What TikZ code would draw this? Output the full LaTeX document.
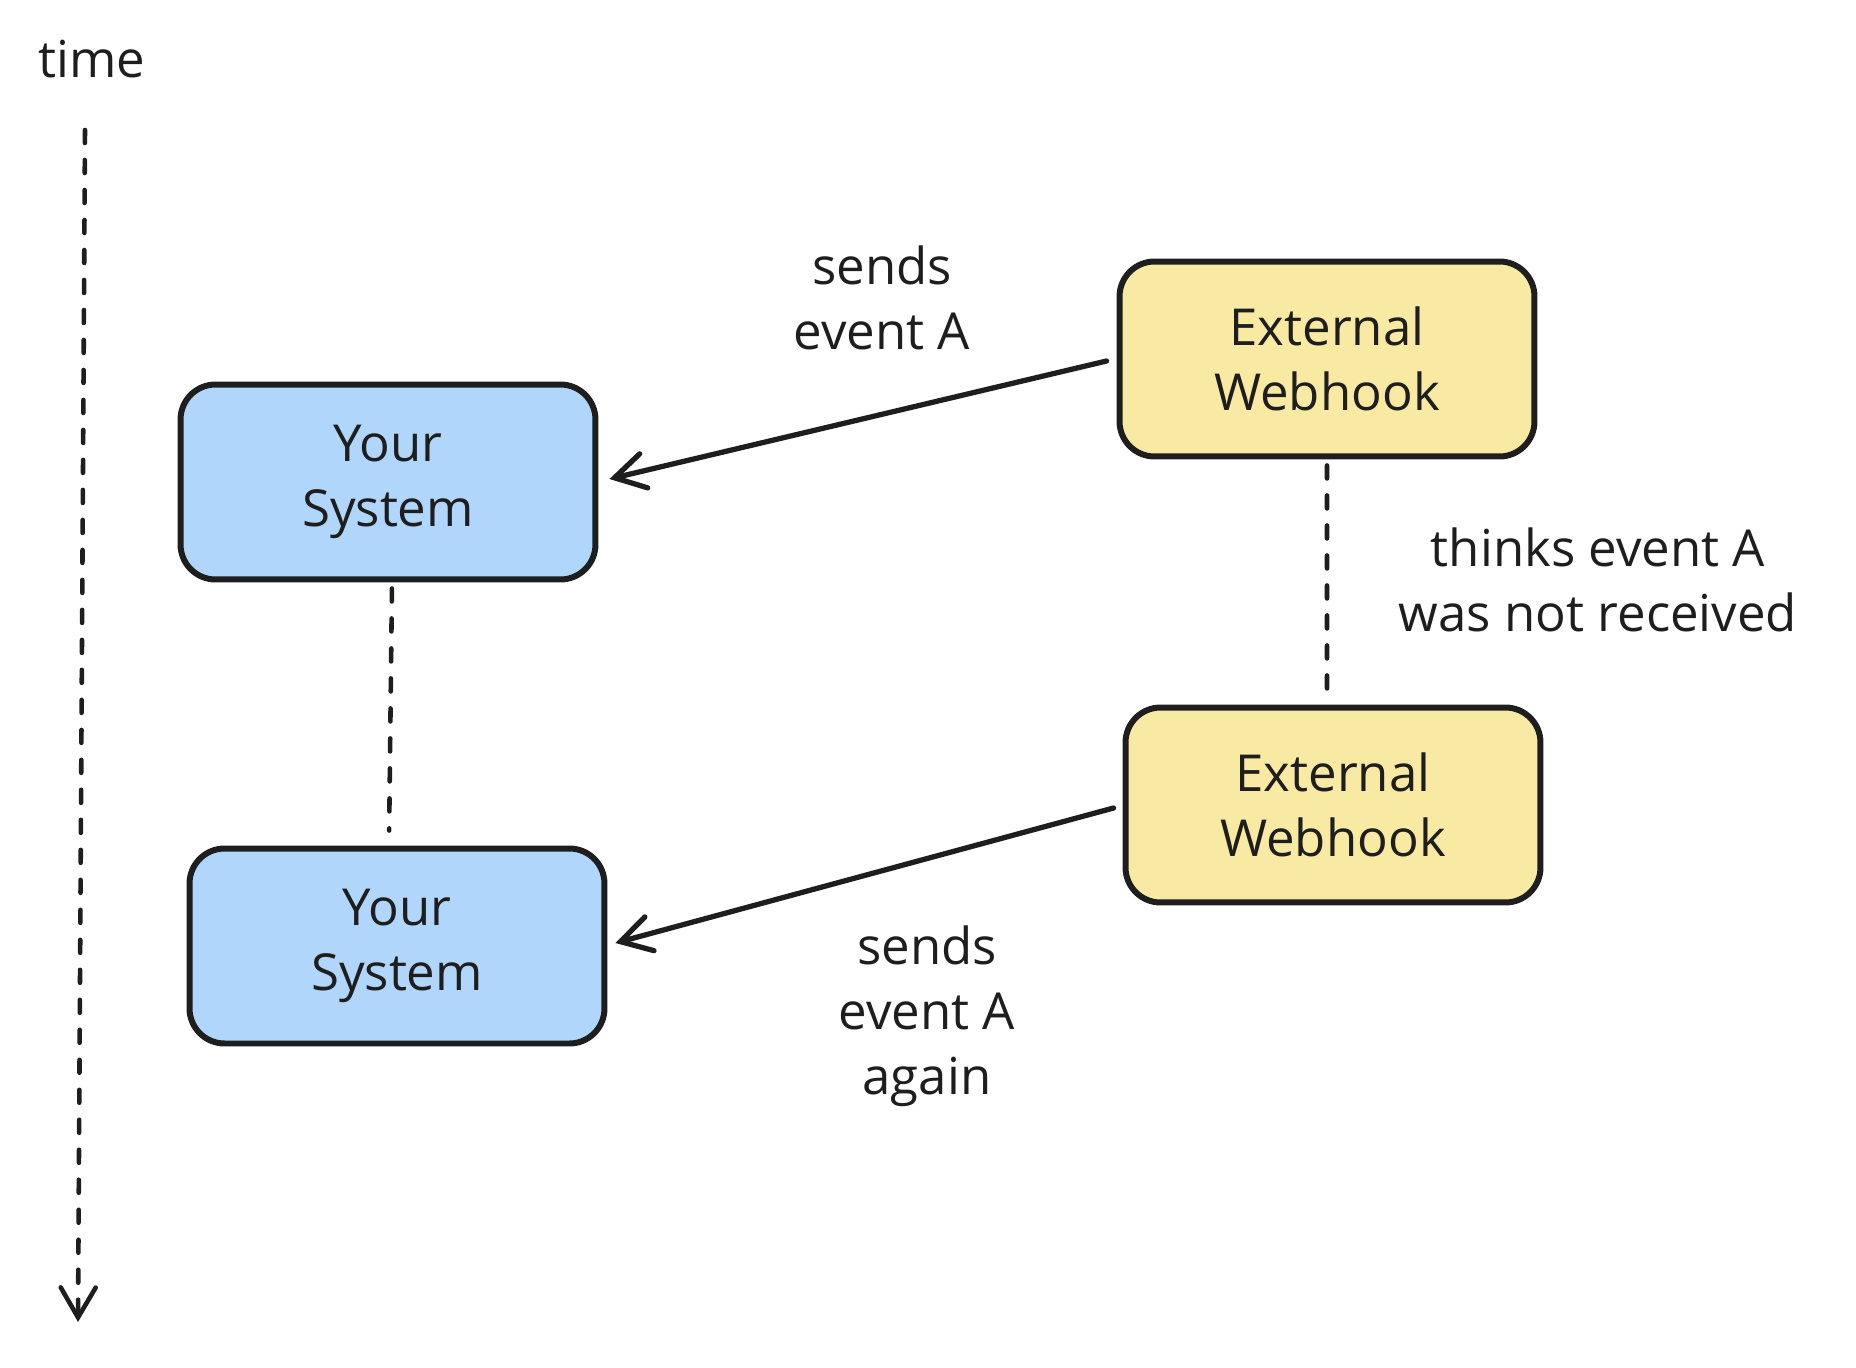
\documentclass[tikz,border=0pt]{standalone}
\usepackage{fontspec}
\setmainfont{Open Sans}
\usepackage{xcolor}
\usetikzlibrary{arrows.meta,positioning}

\definecolor{ink}{HTML}{1E1E1E}
\definecolor{sysblue}{HTML}{B1D6FB}
\definecolor{hookyellow}{HTML}{F9EAA3}

\begin{document}
\begin{tikzpicture}[x=0.02cm, y=-0.02cm,
  box/.style={draw=ink, rectangle, rounded corners=0.7cm, minimum width=8.3cm,
              minimum height=3.9cm, line width=3.4pt, align=center,
              font=\fontsize{29}{37}\selectfont, text=ink},
  tip/.style={-{Straight Barb[length=0.6cm, width=0.7cm, line cap=round]}},
  arr/.style={tip, line width=3pt, draw=ink, line cap=round},
  dashline/.style={draw=ink, line width=2.6pt, line cap=round,
                   dash pattern=on 0.26cm off 0.34cm},
  lbl/.style={align=center, font=\fontsize{29}{37}\selectfont, text=ink}
]
  \useasboundingbox (0,0) rectangle (1856,1368);

  \node[box, fill=sysblue]    (ys1) at (388,482)  {Your\\System};
  \node[box, fill=sysblue]    (ys2) at (397,946)  {Your\\System};
  \node[box, fill=hookyellow] (ew1) at (1327,359) {External\\Webhook};
  \node[box, fill=hookyellow] (ew2) at (1333,805) {External\\Webhook};

  % time axis
  \node[lbl] (time) at (92,59) {time};
  \coordinate (t0) at (85,130);
  \coordinate (t1) at (78,1322);
  \draw[dashline, tip] (t0) -- (t1);

  \draw[arr] ([xshift=-0.2cm, yshift=-0.04cm]ew1.west) -- ([xshift=0.22cm, yshift=0.06cm]ys1.east);
  \draw[arr] ([xshift=-0.18cm, yshift=-0.06cm]ew2.west) -- ([xshift=0.16cm, yshift=0.06cm]ys2.east);

  \draw[dashline, shorten <=0.12cm, shorten >=0.3cm] ([xshift=0.08cm]ys1.south) -- ([xshift=-0.16cm]ys2.north);
  \draw[dashline, shorten <=0.12cm, shorten >=0.12cm] (ew1.south) -- ([xshift=-0.12cm]ew2.north);

  \node[lbl] (send1) at (882,298)  {sends\\event A};
  \node[lbl] (think) at (1598,580) {thinks event A\\was not received};
  \node[lbl] (send2) at (927,1016) {sends\\event A\\again};
\end{tikzpicture}
\end{document}
